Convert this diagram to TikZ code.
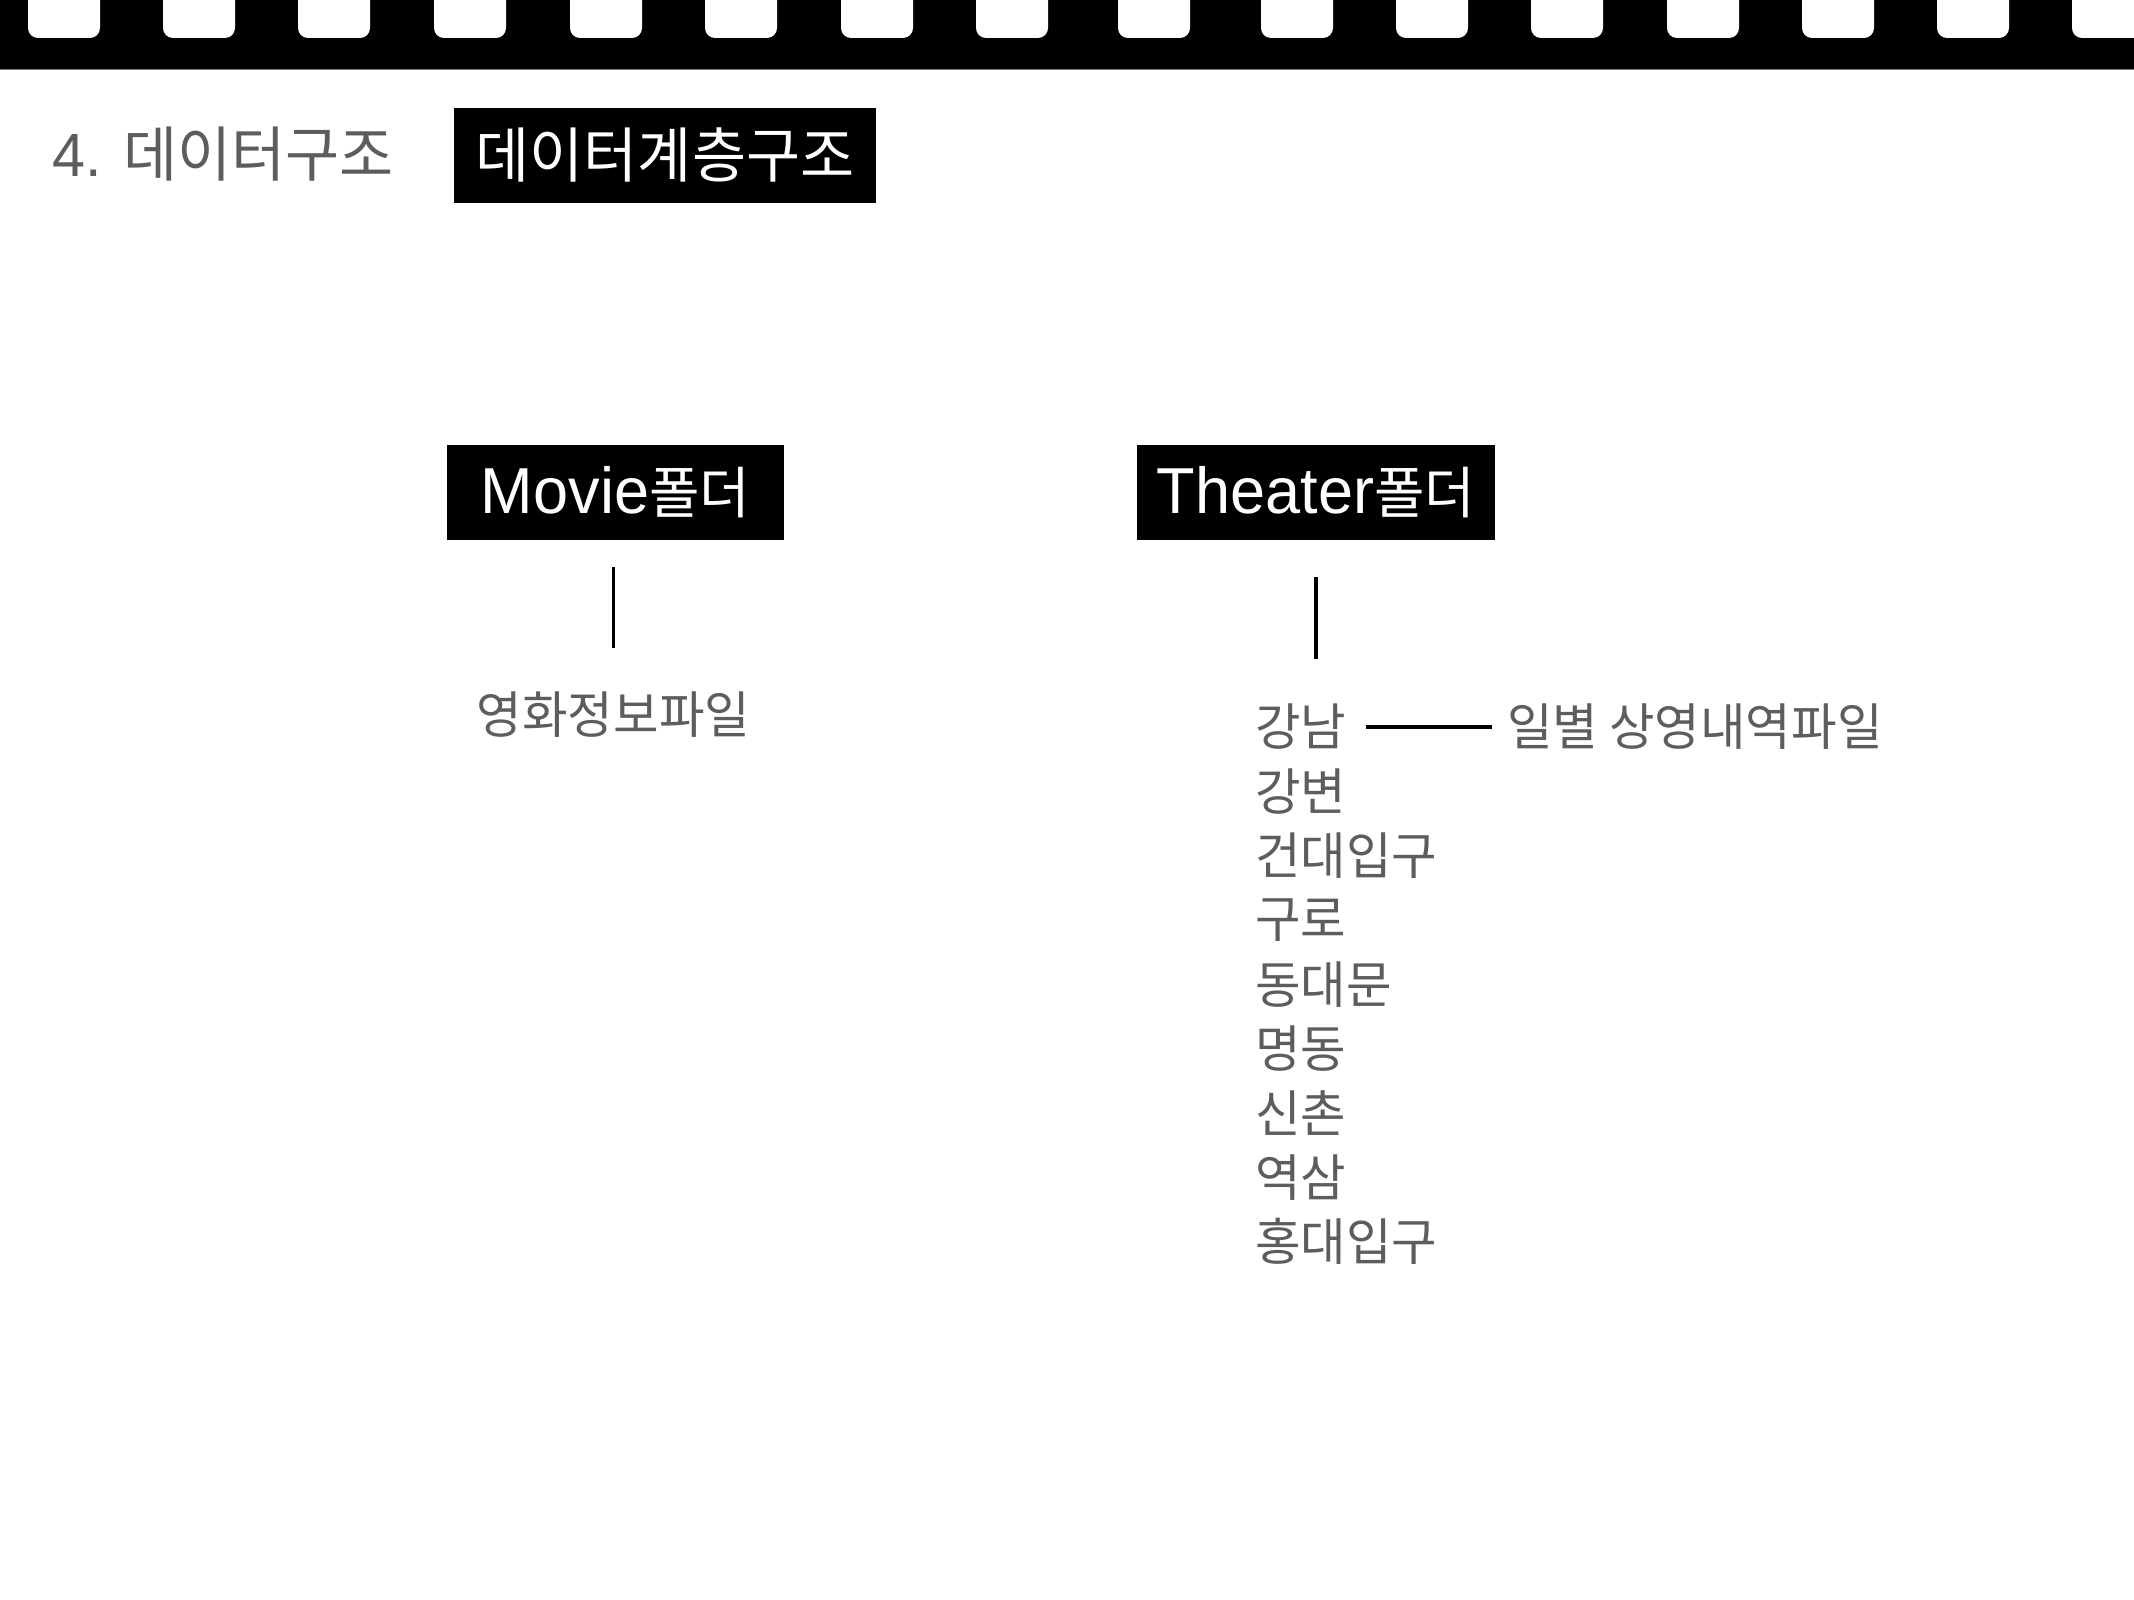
\documentclass[tikz,border=0pt]{standalone}
\usepackage{fontspec}
\newfontfamily\kr[FakeStretch=0.98]{Noto Sans CJK KR}
\newfontfamily\latn[FakeStretch=0.97]{Liberation Sans}
\definecolor{txtgray}{RGB}{93,93,93}
\definecolor{edgegray}{RGB}{120,120,120}
\tikzset{
  blackbox/.style={fill=black, text=white, inner sep=0pt, anchor=center, minimum height=95pt},
  graytext/.style={text=txtgray, inner sep=0pt, font=\kr\fontsize{50.5}{60}\selectfont},
  listitem/.style={graytext, anchor=west},
  conn/.style={line width=3.5pt, black},
  hole/.style={fill=white, rounded corners=10pt},
}
\begin{document}
\begin{tikzpicture}[x=1pt,y=-1pt]
\useasboundingbox (0,0) rectangle (2134,1600);
\fill[white] (0,0) rectangle (2134,1600);
% film strip
\fill[black] (0,0) rectangle (2134,70);
\draw[edgegray, line width=1pt] (0,70) -- (2134,70);
\foreach \hx in {28,163,298,434,570,705,841,976,1118,1261,1396,1531,1667,1802,1937,2072}{
  \fill[hole] (\hx,-20) rectangle (\hx+72,38);
}
% title
\node[anchor=base west, inner sep=0pt, text=txtgray] (title) at (52,176)
  {\latn\fontsize{61}{70}\selectfont 4. \kr\fontsize{60}{70}\selectfont 데이터구조};
\node[blackbox, minimum width=422pt, font=\kr\fontsize{60}{70}\selectfont] (hdr) at (665,155.5) {데이터계층구조};
% folders
\node[blackbox, minimum width=337pt] (movie) at (615.5,492.5)
  {{\latn\fontsize{65}{70}\selectfont Movie}{\kr\fontsize{56}{70}\selectfont 폴더}};
\node[blackbox, minimum width=358pt] (theater) at (1316,492.5)
  {{\latn\fontsize{65}{70}\selectfont Theater}{\kr\fontsize{56}{70}\selectfont 폴더}};
% movie file
\node[graytext] (minfo) at (613.5,715) {영화정보파일};
% theater list
\node[listitem] (gn) at (1255,727) {강남};
\node[listitem] (gb) at (1255,791.3) {강변};
\node[listitem] (kd) at (1255,855.6) {건대입구};
\node[listitem] (gr) at (1255,919.9) {구로};
\node[listitem] (dd) at (1255,984.2) {동대문};
\node[listitem] (md) at (1255,1048.5) {명동};
\node[listitem] (sc) at (1255,1112.8) {신촌};
\node[listitem] (ys) at (1255,1177.1) {역삼};
\node[listitem] (hd) at (1255,1241.4) {홍대입구};
\node[listitem] (daily) at (1507,727) {일별 상영내역파일};
% connectors
\draw[conn, shorten <=27pt, shorten >=44pt] (minfo.north |- movie.south) -- (minfo.north);
\draw[conn, shorten <=37pt, shorten >=45pt] (theater.south) -- (theater.south |- gn.north);
\draw[conn, line width=4pt, shorten <=20pt, shorten >=15pt] (gn.east) -- (daily.west);
\end{tikzpicture}
\end{document}
